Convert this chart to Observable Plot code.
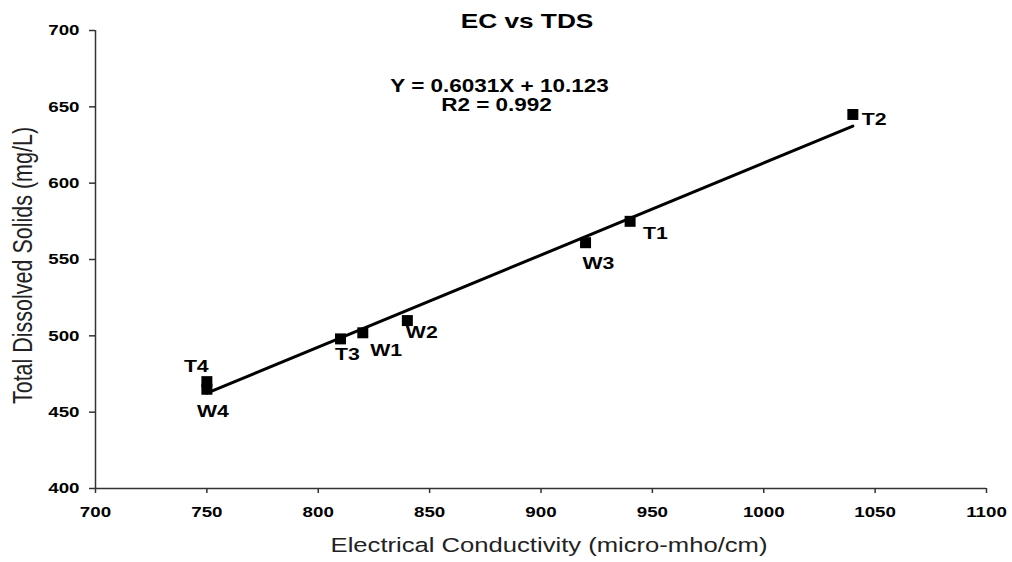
<!DOCTYPE html>
<html>
<head>
<meta charset="utf-8">
<script src="https://cdn.jsdelivr.net/npm/d3@7"></script>
<script src="https://cdn.jsdelivr.net/npm/@observablehq/plot@0.6"></script>
<style>
  body { margin: 0; background: #fff; }
  #chart svg { display: block; }
  #chart g[aria-label="x-axis tick label"] text,
  #chart g[aria-label="y-axis tick label"] text { font-weight: bold; }
</style>
</head>
<body>
<div id="chart"></div>
<script>
// ---- data ----
const sites = ["T4", "W4", "T3", "W1", "W2", "W3", "T1", "T2"];
const ec    = [750, 750, 810, 820, 840, 920, 940, 1040];   // Electrical Conductivity (micro-mho/cm)
const tds   = [470, 465, 498, 502, 510, 561, 575, 645];    // Total Dissolved Solids (mg/L)

const xTicks = [700, 750, 800, 850, 900, 950, 1000, 1050, 1100];
const yTicks = [400, 450, 500, 550, 600, 650, 700];

// trendline as printed on the chart
const slope = 0.6031;
const intercept = 10.123;
const rSquared = 0.992;
const fitRange = [750, 1040];

const titleText = "EC vs TDS";
const xLabel = "Electrical Conductivity (micro-mho/cm)";
const yLabel = "Total Dissolved Solids (mg/L)";
const eqLine1 = "Y = 0.6031X + 10.123";
const eqLine2 = "R2 = 0.992";

// ---- tables built from the arrays ----
const points = sites.map((s, i) => ({site: s, ec: ec[i], tds: tds[i]}));
const fit = fitRange.map(x => ({ec: x, tds: slope * x + intercept}));

// label placement (pixel offsets, style only)
const labelOffset = {
  T2: [9, 5], T1: [13, 12], W3: [-3, 21], W2: [-1.5, 12],
  W1: [7.5, 18], T3: [-5.5, 16], T4: [-23, -15], W4: [-10, 22]
};

const labelMarks = points.map(p => Plot.text([p], {
  x: "ec", y: "tds", text: "site",
  dx: labelOffset[p.site][0], dy: labelOffset[p.site][1],
  textAnchor: "start", lineAnchor: "middle",
  fontSize: 17, fontWeight: "bold", fill: "#000"
}));

const chart = Plot.plot({
  width: 1012,
  height: 562,
  marginLeft: 95,
  marginRight: 26,
  marginTop: 30,
  marginBottom: 74,
  x: {domain: [700, 1100]},
  y: {domain: [400, 700]},
  style: {fontFamily: "'Liberation Sans', Arial, sans-serif", background: "#fff", color: "#000"},
  marks: [
    Plot.axisX({ticks: xTicks, tickFormat: d => String(d), tickSize: 5, tickPadding: 13,
                fontSize: 15, fontWeight: "bold", label: null, stroke: "#333", strokeWidth: 1.5}),
    Plot.axisY({ticks: yTicks, tickFormat: d => String(d), tickSize: 6, tickPadding: 10,
                fontSize: 15, fontWeight: "bold", label: null, stroke: "#333", strokeWidth: 1.5}),
    Plot.ruleY([400], {stroke: "#333", strokeWidth: 1.5}),
    Plot.ruleX([700], {stroke: "#333", strokeWidth: 1.5}),
    Plot.line(fit, {x: "ec", y: "tds", stroke: "#000", strokeWidth: 3}),
    Plot.dot(points, {x: "ec", y: "tds", symbol: "square", r: 6.2, fill: "#000", stroke: "none"}),
    ...labelMarks,
    Plot.text([titleText], {frameAnchor: "top", dx: -14, dy: -9.5, lineAnchor: "middle",
                            fontSize: 21, fontWeight: "bold", fill: "#000"}),
    Plot.text([eqLine1], {frameAnchor: "top", dx: -41.5, dy: 55.5, lineAnchor: "middle",
                          fontSize: 18, fontWeight: "bold", fill: "#000"}),
    Plot.text([eqLine2], {frameAnchor: "top", dx: -44.5, dy: 75, lineAnchor: "middle",
                          fontSize: 18, fontWeight: "bold", fill: "#000"}),
    Plot.text([xLabel], {frameAnchor: "bottom", dx: 8, dy: 57, lineAnchor: "middle",
                         fontSize: 20.5, fill: "#222"}),
    Plot.text([yLabel], {frameAnchor: "left", dx: -72.5, dy: 6, rotate: -90,
                         textAnchor: "middle", lineAnchor: "middle",
                         fontSize: 21.5, fill: "#222"})
  ]
});

// the reference's lettering is stretched horizontally; mimic that
chart.querySelectorAll("text").forEach(t => {
  const tr = t.getAttribute("transform") || "";
  t.setAttribute("transform", tr + (tr.includes("rotate") ? " scale(1,1.25)" : " scale(1.25,1)"));
});

document.getElementById("chart").appendChild(chart);
</script>
</body>
</html>
